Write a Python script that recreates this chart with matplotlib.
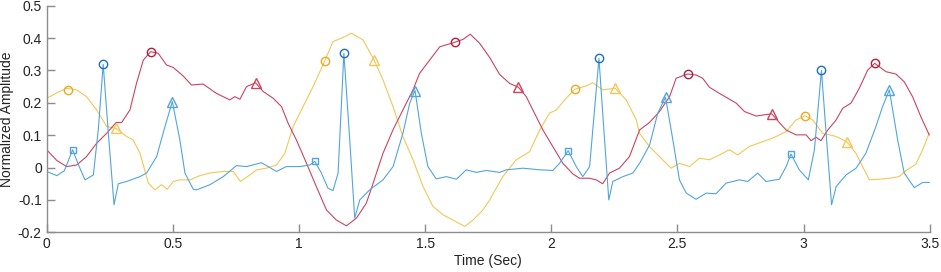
import matplotlib
matplotlib.use('Agg')
import matplotlib.pyplot as plt

plt.rcParams['font.family'] = ['Liberation Sans', 'DejaVu Sans']

# blue trace (ECG-like)
blue_t = [0.0, 0.04, 0.07, 0.103, 0.125, 0.152, 0.185, 0.205, 0.224, 0.245, 0.267, 0.284, 0.317, 0.37,
          0.396, 0.436, 0.469, 0.498, 0.528, 0.548, 0.581, 0.594, 0.647, 0.7, 0.752, 0.792, 0.851, 0.911,
          0.95, 1.003, 1.043, 1.063, 1.089, 1.115, 1.135, 1.155, 1.178, 1.2, 1.221, 1.241, 1.28, 1.333,
          1.373, 1.412, 1.439, 1.46, 1.485, 1.511, 1.544, 1.584, 1.624, 1.663, 1.703, 1.742, 1.795, 1.822,
          1.888, 1.954, 2.006, 2.033, 2.067, 2.099, 2.125, 2.152, 2.189, 2.21, 2.228, 2.244, 2.284, 2.323,
          2.35, 2.39, 2.422, 2.453, 2.482, 2.508, 2.535, 2.574, 2.614, 2.653, 2.693, 2.746, 2.779, 2.818,
          2.851, 2.904, 2.931, 2.95, 2.983, 3.019, 3.043, 3.071, 3.09, 3.111, 3.129, 3.168, 3.208, 3.247,
          3.287, 3.313, 3.34, 3.373, 3.399, 3.439, 3.472, 3.498]
blue_v = [-0.012, -0.025, -0.01, 0.055, 0.01, -0.038, -0.023, 0.12, 0.319, 0.1, -0.115, -0.05, -0.043, -0.028,
          -0.017, 0.034, 0.127, 0.204, 0.085, -0.017, -0.067, -0.069, -0.053, -0.028, 0.006, 0.003, 0.015, -0.012,
          0.003, 0.003, 0.008, 0.019, -0.017, -0.064, -0.071, -0.017, 0.353, 0.1, -0.156, -0.1, -0.069, -0.038,
          0.003, 0.106, 0.199, 0.238, 0.106, 0.003, -0.035, -0.028, -0.036, -0.007, -0.015, -0.009, -0.015, -0.007,
          -0.002, -0.007, -0.009, 0.013, 0.052, 0.003, -0.028, 0.003, 0.337, 0.1, -0.1, -0.043, -0.028, -0.017,
          0.013, 0.07, 0.168, 0.217, 0.085, -0.038, -0.079, -0.098, -0.079, -0.081, -0.048, -0.038, -0.043, -0.017,
          -0.043, -0.036, 0.003, 0.042, -0.007, -0.038, 0.055, 0.3, 0.1, -0.115, -0.059, -0.023, -0.002, 0.044,
          0.127, 0.188, 0.24, 0.085, -0.017, -0.062, -0.046, -0.046]

# yellow trace
yellow_t = [0.0, 0.04, 0.079, 0.119, 0.158, 0.198, 0.238, 0.275, 0.317, 0.343, 0.37, 0.403, 0.429, 0.455,
            0.478, 0.502, 0.528, 0.568, 0.607, 0.647, 0.7, 0.739, 0.768, 0.805, 0.832, 0.871, 0.911, 0.944,
            0.977, 1.016, 1.056, 1.102, 1.135, 1.181, 1.208, 1.254, 1.298, 1.333, 1.373, 1.412, 1.452, 1.492,
            1.531, 1.571, 1.61, 1.657, 1.69, 1.729, 1.756, 1.808, 1.861, 1.914, 1.954, 1.993, 2.02, 2.053,
            2.093, 2.138, 2.165, 2.204, 2.253, 2.297, 2.337, 2.35, 2.389, 2.429, 2.475, 2.508, 2.548, 2.587,
            2.627, 2.667, 2.706, 2.739, 2.785, 2.838, 2.878, 2.931, 2.97, 3.006, 3.036, 3.076, 3.129, 3.171,
            3.208, 3.234, 3.261, 3.3, 3.34, 3.379, 3.406, 3.445, 3.472, 3.498]
yellow_v = [0.214, 0.231, 0.245, 0.24, 0.219, 0.178, 0.127, 0.121, 0.096, 0.085, 0.044, -0.048, -0.069, -0.053,
            -0.067, -0.043, -0.038, -0.038, -0.025, -0.017, -0.012, -0.012, -0.043, -0.023, -0.007, -0.002, 0.008, 0.044,
            0.127, 0.188, 0.25, 0.329, 0.389, 0.404, 0.415, 0.394, 0.332, 0.271, 0.188, 0.096, 0.024, -0.059,
            -0.12, -0.146, -0.162, -0.182, -0.162, -0.131, -0.1, -0.028, 0.024, 0.049, 0.116, 0.168, 0.178, 0.209,
            0.242, 0.252, 0.262, 0.24, 0.245, 0.209, 0.147, 0.106, 0.065, 0.034, -0.002, 0.013, 0.003, 0.029,
            0.024, 0.039, 0.055, 0.039, 0.065, 0.08, 0.091, 0.111, 0.147, 0.16, 0.147, 0.106, 0.096, 0.08,
            0.044, 0.003, -0.038, -0.036, -0.033, -0.028, -0.009, 0.01, 0.055, 0.106]

# red trace
red_t = [0.0, 0.04, 0.079, 0.119, 0.158, 0.198, 0.238, 0.275, 0.297, 0.33, 0.356, 0.383, 0.412, 0.442,
         0.475, 0.502, 0.541, 0.574, 0.62, 0.673, 0.726, 0.746, 0.766, 0.792, 0.828, 0.858, 0.898, 0.931,
         0.957, 0.99, 1.03, 1.069, 1.109, 1.148, 1.188, 1.228, 1.267, 1.294, 1.333, 1.373, 1.412, 1.452,
         1.478, 1.518, 1.558, 1.617, 1.65, 1.679, 1.716, 1.756, 1.795, 1.835, 1.87, 1.901, 1.927, 1.967,
         2.006, 2.046, 2.086, 2.112, 2.152, 2.178, 2.204, 2.231, 2.27, 2.31, 2.35, 2.389, 2.429, 2.469,
         2.495, 2.541, 2.574, 2.6, 2.627, 2.667, 2.7, 2.733, 2.766, 2.812, 2.845, 2.874, 2.904, 2.931,
         2.97, 3.01, 3.03, 3.049, 3.069, 3.096, 3.129, 3.155, 3.188, 3.221, 3.254, 3.282, 3.327, 3.366,
         3.399, 3.432, 3.465, 3.498]
red_v = [0.055, 0.022, 0.003, 0.008, 0.034, 0.075, 0.106, 0.139, 0.139, 0.178, 0.26, 0.332, 0.358, 0.353,
         0.317, 0.309, 0.283, 0.255, 0.258, 0.229, 0.209, 0.219, 0.211, 0.25, 0.262, 0.235, 0.214, 0.188,
         0.137, 0.085, 0.013, -0.059, -0.131, -0.162, -0.18, -0.156, -0.11, -0.048, 0.044, 0.117, 0.178, 0.24,
         0.291, 0.332, 0.373, 0.387, 0.396, 0.412, 0.384, 0.34, 0.288, 0.26, 0.248, 0.219, 0.178, 0.116,
         0.065, 0.013, -0.02, -0.033, -0.033, -0.038, -0.05, -0.017, -0.002, 0.034, 0.116, 0.139, 0.173, 0.219,
         0.276, 0.289, 0.286, 0.276, 0.248, 0.229, 0.214, 0.199, 0.173, 0.159, 0.163, 0.166, 0.139, 0.116,
         0.101, 0.101, 0.083, 0.094, 0.083, 0.116, 0.147, 0.183, 0.199, 0.245, 0.301, 0.322, 0.296, 0.289,
         0.265, 0.219, 0.157, 0.101]

# detected points
blue_circ_t = [0.224, 1.178, 2.189, 3.071]
blue_circ_v = [0.319, 0.353, 0.337, 0.3]
blue_sq_t = [0.103, 1.063, 2.067, 2.95]
blue_sq_v = [0.055, 0.019, 0.052, 0.042]
blue_tri_t = [0.498, 1.46, 2.453, 3.34]
blue_tri_v = [0.204, 0.238, 0.217, 0.24]
yellow_circ_t = [0.083, 1.102, 2.093, 3.006]
yellow_circ_v = [0.24, 0.329, 0.242, 0.16]
yellow_tri_t = [0.275, 1.298, 2.253, 3.171]
yellow_tri_v = [0.121, 0.332, 0.245, 0.08]
red_circ_t = [0.412, 1.617, 2.541, 3.282]
red_circ_v = [0.358, 0.387, 0.289, 0.322]
red_tri_t = [0.828, 1.87, 2.874]
red_tri_v = [0.262, 0.248, 0.166]

c_blue = '#52a5dc'
c_yellow = '#f3c757'
c_red = '#c94560'

fig = plt.figure(figsize=(9.41, 2.72), dpi=100)
ax = fig.add_axes([0.0496, 0.146, 0.9384, 0.833])

ax.plot(yellow_t, yellow_v, color=c_yellow, lw=0.8)
ax.plot(red_t, red_v, color=c_red, lw=0.8)
ax.plot(blue_t, blue_v, color=c_blue, lw=0.8)

mk = dict(linestyle='none', mfc='none', mew=1.0)
ax.plot(yellow_circ_t, yellow_circ_v, marker='o', ms=6, mec='#e8ab22', **mk)
ax.plot(yellow_tri_t, yellow_tri_v, marker='^', ms=7, mec=c_yellow, **mk)
ax.plot(red_circ_t, red_circ_v, marker='o', ms=6, mec='#b31f3c', **mk)
ax.plot(red_tri_t, red_tri_v, marker='^', ms=7, mec=c_red, **mk)
ax.plot(blue_circ_t, blue_circ_v, marker='o', ms=6, mec='#1f6fbd', **mk)
ax.plot(blue_sq_t, blue_sq_v, marker='s', ms=4, mec=c_blue, **mk)
ax.plot(blue_tri_t, blue_tri_v, marker='^', ms=7, mec=c_blue, **mk)

ax.set_xlim(0, 3.5)
ax.set_ylim(-0.2, 0.5)
ax.set_xticks([0, 0.5, 1, 1.5, 2, 2.5, 3, 3.5])
ax.set_xticklabels(['0', '0.5', '1', '1.5', '2', '2.5', '3', '3.5'])
ax.set_yticks([-0.2, -0.1, 0, 0.1, 0.2, 0.3, 0.4, 0.5])
ax.set_yticklabels(['-0.2', '-0.1', '0', '0.1', '0.2', '0.3', '0.4', '0.5'])

for s in ['top', 'right']:
    ax.spines[s].set_visible(False)
for s in ['left', 'bottom']:
    ax.spines[s].set_color('#8c8c8c')
    ax.spines[s].set_linewidth(1.0)
ax.tick_params(direction='in', length=6, width=1.0, color='#8c8c8c', labelsize=10, labelcolor='#222222')
ax.set_xlabel('Time (Sec)', fontsize=10, color='#222222', labelpad=2)
ax.set_ylabel('Normalized Amplitude', fontsize=10, color='#222222', labelpad=3)

fig.savefig('out.png', dpi=100)
